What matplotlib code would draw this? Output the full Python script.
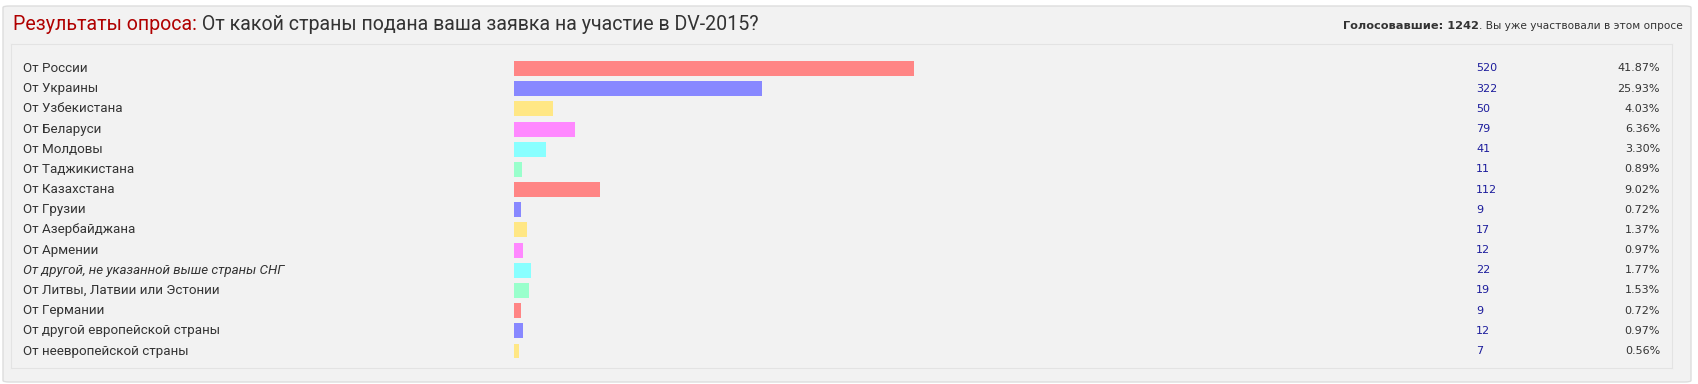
import matplotlib.pyplot as plt
from matplotlib.patches import FancyBboxPatch
from matplotlib.transforms import blended_transform_factory

# Poll data
options = [
    "От России", "От Украины", "От Узбекистана", "От Беларуси", "От Молдовы",
    "От Таджикистана", "От Казахстана", "От Грузии", "От Азербайджана",
    "От Армении", "От другой, не указанной выше страны СНГ",
    "От Литвы, Латвии или Эстонии", "От Германии",
    "От другой европейской страны", "От неевропейской страны",
]
votes = [520, 322, 50, 79, 41, 11, 112, 9, 17, 12, 22, 19, 9, 12, 7]
percents = ["41.87%", "25.93%", "4.03%", "6.36%", "3.30%", "0.89%", "9.02%",
            "0.72%", "1.37%", "0.97%", "1.77%", "1.53%", "0.72%", "0.97%", "0.56%"]
total_votes = 1242
palette = ["#ff8585", "#8888ff", "#ffe785", "#ff88ff", "#88ffff", "#99ffcc"]

W, H = 1698, 384
fig = plt.figure(figsize=(W / 100, H / 100), dpi=100)
fig.patch.set_facecolor("white")

# outer panel
panel = FancyBboxPatch((3 / W, 2 / H), 1688 / W, 376 / H,
                       boxstyle="round,pad=0,rounding_size=0.004",
                       transform=fig.transFigure, facecolor="#f2f2f2",
                       edgecolor="#dddddd", linewidth=1, zorder=-5)
fig.patches.append(panel)

# inner box = bars axes
box_l, box_r, box_t, box_b = 11, 1672, 44, 368
ax = fig.add_axes([box_l / W, (H - box_b) / H, (box_r - box_l) / W, (box_b - box_t) / H])
ax.set_facecolor("#f2f2f2")
for s in ax.spines.values():
    s.set_color("#e3e3e3")
ax.set_xticks([])
ax.set_yticks([])

px_per_vote = 0.77
bar_x0 = 514
ax.set_xlim(-(bar_x0 - box_l) / px_per_vote, (box_r - bar_x0) / px_per_vote)
pitch = 20.18
ax.set_ylim(14 + (box_b - 351) / pitch, -(68.5 - box_t) / pitch)

rows = list(range(len(options)))
colors = [palette[i % len(palette)] for i in rows]
ax.barh(rows, votes, height=0.74, left=0, color=colors)

tr = blended_transform_factory(fig.transFigure, ax.transData)
for i in rows:
    style = "italic" if "СНГ" in options[i] else "normal"
    ax.text(23 / W, i, options[i], transform=tr, ha="left", va="center",
            fontsize=9.6, color="#333333", family="Roboto", style=style)
    ax.text(1476 / W, i, str(votes[i]), transform=tr, ha="left", va="center",
            fontsize=8, color="#1c1c9c", family="DejaVu Sans")
    ax.text(1660 / W, i, percents[i], transform=tr, ha="right", va="center",
            fontsize=8, color="#333333", family="DejaVu Sans")

# header
t1 = fig.text(13 / W, 1 - 25 / H, "Результаты опроса:", ha="left", va="center",
              fontsize=14.1, color="#b00000", family="Roboto")
fig.add_artist(plt.Annotation(" От какой страны подана ваша заявка на участие в DV-2015?",
                              xy=(1, 0), xycoords=t1, ha="left", va="bottom",
                              fontsize=14.1, color="#333333", family="Roboto"))

t2 = fig.text(1683 / W, 1 - 26 / H, ". Вы уже участвовали в этом опросе",
              ha="right", va="center", fontsize=7.6, color="#333333", family="DejaVu Sans")
fig.add_artist(plt.Annotation("Голосовавшие: %d" % total_votes, xy=(0, 0), xycoords=t2,
                              ha="right", va="bottom", fontsize=8.2, fontweight="bold",
                              color="#333333", family="DejaVu Sans"))

fig.savefig("out.png", dpi=100, facecolor="white")
